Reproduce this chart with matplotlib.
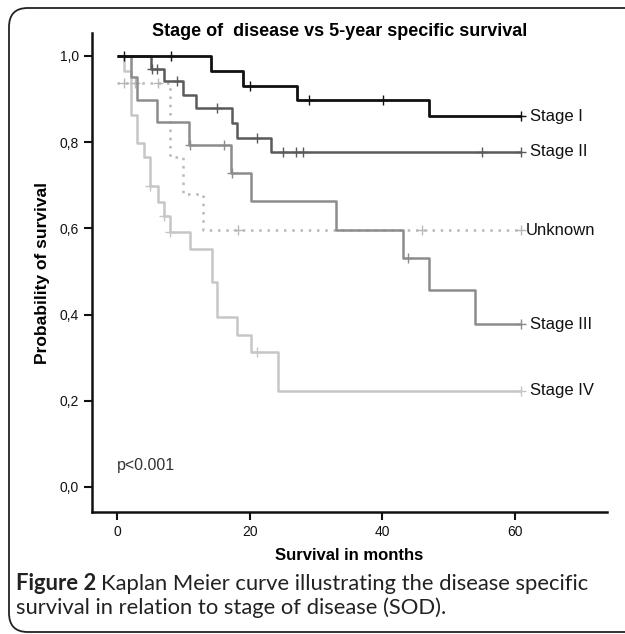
import numpy as np
import matplotlib
matplotlib.use("Agg")
from matplotlib import pyplot as plt
from matplotlib.patches import FancyBboxPatch

# Kaplan Meier steps (months, survival after the step)
stage1_t = [0, 14.1, 19.0, 27.1, 47.1, 61.0]
stage1_s = [1.0, 0.966, 0.931, 0.897, 0.860, 0.860]
stage1_cens = [1.0, 8.1, 20.1, 29.0, 40.1, 61.0]

stage2_t = [0, 5.1, 7.0, 9.9, 11.9, 17.3, 18.1, 23.2, 61.0]
stage2_s = [1.0, 0.970, 0.941, 0.909, 0.879, 0.845, 0.810, 0.777, 0.777]
stage2_cens = [5.3, 6.0, 9.0, 15.1, 21.1, 25.0, 27.0, 28.0, 55.1, 61.0]

stage3_t = [0, 2.1, 3.0, 6.0, 10.8, 17.1, 20.2, 33.0, 43.1, 47.1, 54.0, 61.0]
stage3_s = [1.0, 0.951, 0.898, 0.846, 0.793, 0.729, 0.664, 0.596, 0.531, 0.457, 0.378, 0.378]
stage3_cens = [11.0, 16.1, 17.3, 43.9, 61.0]

stage4_t = [0, 1.1, 2.1, 3.0, 4.0, 5.0, 6.2, 7.0, 8.0, 11.0, 14.3, 15.1, 18.1, 20.2, 24.2, 61.0]
stage4_s = [1.0, 0.964, 0.863, 0.797, 0.766, 0.697, 0.662, 0.628, 0.591, 0.552, 0.475, 0.394,
            0.353, 0.314, 0.223, 0.223]
stage4_cens = [5.0, 7.0, 8.0, 21.1, 61.0]

unknown_t = [0, 8.0, 10.0, 13.0, 61.0]
unknown_s = [0.9375, 0.766, 0.680, 0.596, 0.596]
unknown_cens = [1.1, 2.7, 6.2, 18.3, 46.0, 61.0]

curve_names = ["Stage I", "Stage II", "Unknown", "Stage III", "Stage IV"]
x_ticks = [0, 20, 40, 60]
y_ticks = [0.0, 0.2, 0.4, 0.6, 0.8, 1.0]
y_ticklabels = ["0,0", "0,2", "0,4", "0,6", "0,8", "1,0"]

plt.rcParams['font.family'] = ['Liberation Sans', 'DejaVu Sans']

fig = plt.figure(figsize=(6.25, 6.34), dpi=100)
W, H = 625, 634

# rounded frame around the figure (right side runs off the picture)
frame = FancyBboxPatch((9 / W, 2 / H), 700 / W, 624 / H, boxstyle="round,pad=0,rounding_size=0.03",
                       transform=fig.transFigure, fill=False, edgecolor="#222222", lw=1.3)
fig.patches.append(frame)

ax = fig.add_axes([92 / W, 1 - 512 / H, 515 / W, 479 / H])
ax.set_xlim(-3.8, 73.9)
ax.set_ylim(-0.058, 1.053)

def km(t, s, cens, color, ls, lw):
    ax.step(t, s, where='post', color=color, linestyle=ls, lw=lw, solid_capstyle='butt')
    # value of the curve at each censoring time
    idx = np.searchsorted(t, cens, side='right') - 1
    ax.plot(cens, np.array(s)[idx], linestyle='none', marker='+', ms=7, mew=1.0, color=color)

km(stage4_t, stage4_s, stage4_cens, "#c6c6c6", '-', 1.8)
km(unknown_t, unknown_s, unknown_cens, "#b8b8b8", (0, (1.0, 2.3)), 1.8)
km(stage3_t, stage3_s, stage3_cens, "#8c8c8c", '-', 1.8)
km(stage2_t, stage2_s, stage2_cens, "#5a5a5a", '-', 1.8)
km(stage1_t, stage1_s, stage1_cens, "#111111", '-', 2.0)

ends = [stage1_s[-1], stage2_s[-1], unknown_s[-1], stage3_s[-1], stage4_s[-1]]
for name, yv in zip(curve_names, ends):
    xoff = 61.7 if name == "Unknown" else 62.3
    ax.text(xoff, yv, name, fontsize=12, va='center', ha='left', color="#111111")

ax.text(0, 0.05, "p<0.001", fontsize=11.5, color="#333333", va='center', ha='left')

for side in ['top', 'right']:
    ax.spines[side].set_visible(False)
for side in ['left', 'bottom']:
    ax.spines[side].set_linewidth(1.8)
    ax.spines[side].set_color("#111111")

ax.set_xticks(x_ticks)
ax.set_yticks(y_ticks)
ax.set_yticklabels(y_ticklabels)
ax.tick_params(axis='both', length=6, width=1.5, labelsize=10, colors="#111111")

ax.set_xlabel("Survival in months", fontsize=12, fontweight='bold', labelpad=6)
ax.set_ylabel("Probability of survival", fontsize=12.5, fontweight='bold', labelpad=7)
fig.text(340 / W, 1 - 32 / H, "Stage of  disease vs 5-year specific survival",
         fontsize=13, fontweight='bold', ha='center', va='center')

# caption with bold "Figure 2" lead
cap_font = ['Lato', 'DejaVu Sans']
t1 = fig.text(16 / W, 1 - 584 / H, "Figure 2", fontsize=15.8, fontweight='bold',
              family=cap_font, va='center', ha='left', color="#222222")
fig.canvas.draw()
bb = t1.get_window_extent().transformed(fig.transFigure.inverted())
fig.text(bb.x1 + 5 / W, 1 - 584 / H, "Kaplan Meier curve illustrating the disease specific",
         fontsize=15.8, family=cap_font, va='center', ha='left', color="#222222")
fig.text(16 / W, 1 - 608 / H, "survival in relation to stage of disease (SOD).",
         fontsize=15.8, family=cap_font, va='center', ha='left', color="#222222")

fig.savefig("out.png", dpi=100)
